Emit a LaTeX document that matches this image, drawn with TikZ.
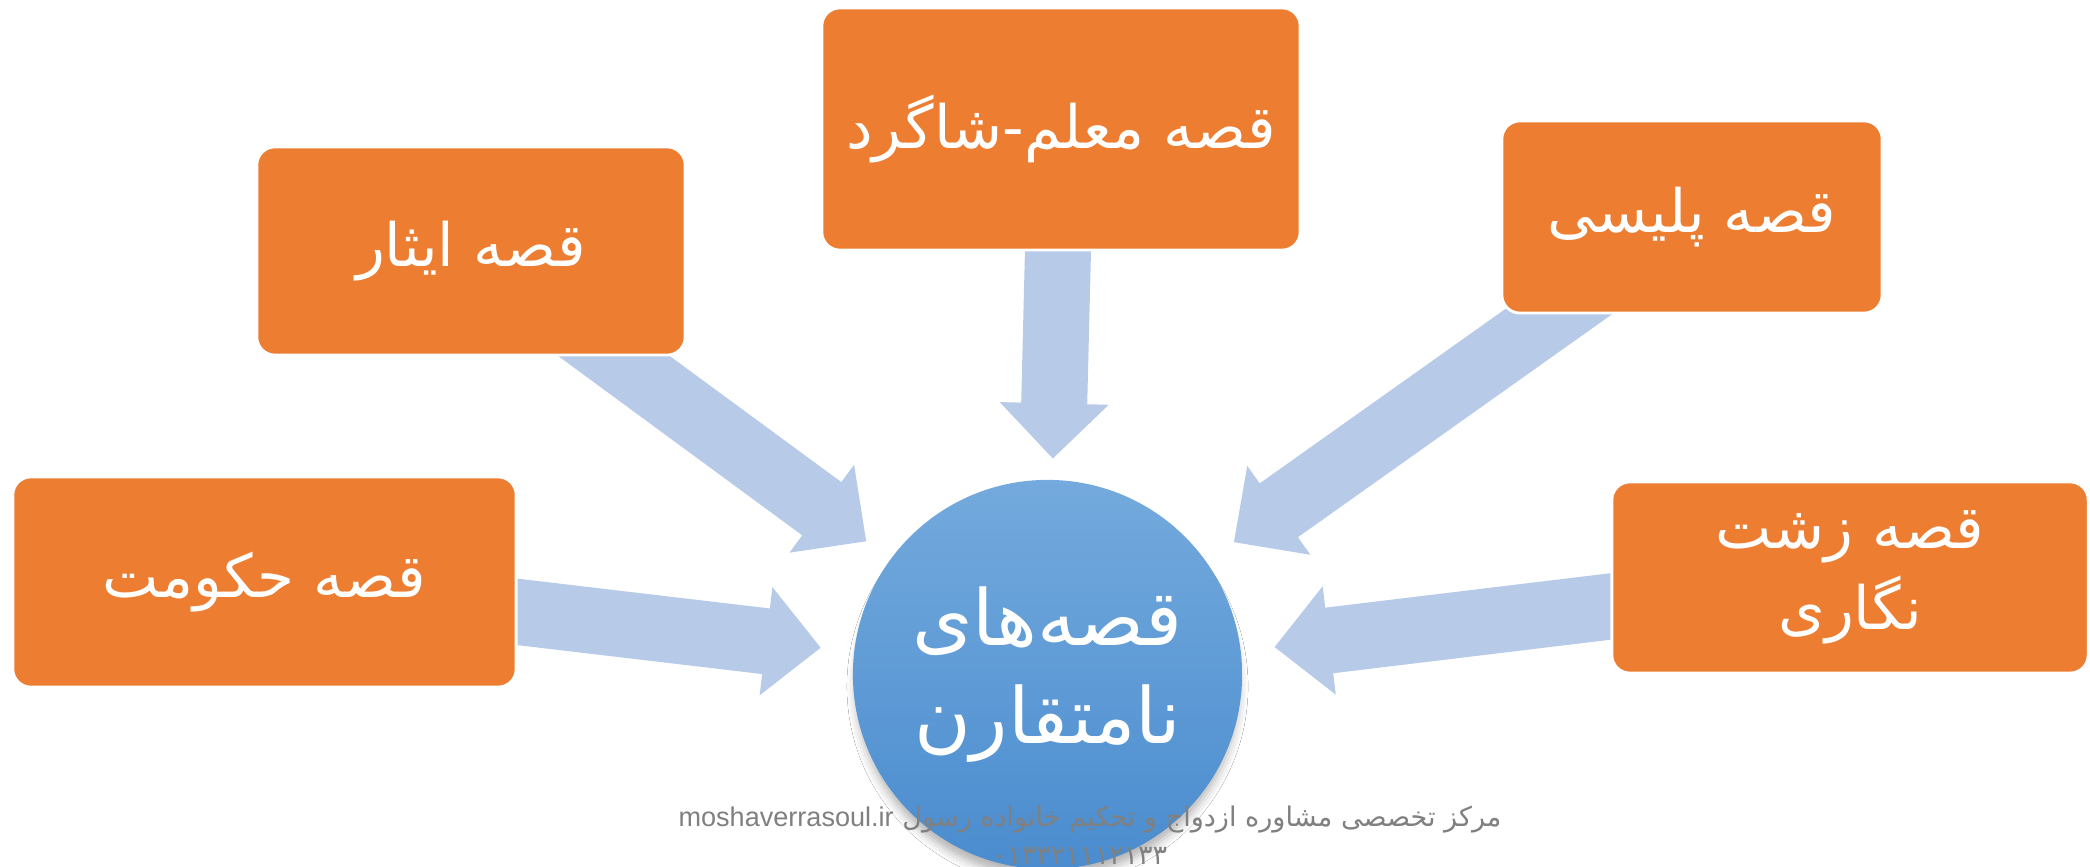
\documentclass[tikz,border=0pt]{standalone}
\usepackage{fontspec}
\newfontfamily\arabicfont[Script=Arabic]{DejaVu Sans}
\newfontfamily\latinsans{Liberation Sans}
\TeXXeTstate=1
\usetikzlibrary{calc,backgrounds,shadows.blur}
\definecolor{boxorange}{HTML}{ED7D31}
\definecolor{arrowblue}{HTML}{B7CBE8}
\definecolor{hubtop}{HTML}{74AADD}
\definecolor{hubbot}{HTML}{4A8CCF}
\definecolor{notegray}{HTML}{808080}
\newcommand\boxfont{\arabicfont\fontsize{17pt}{23pt}\selectfont}
\newcommand\hubfont{\arabicfont\fontsize{22pt}{28pt}\selectfont}
\newcommand\notefont{\arabicfont\fontsize{7.7pt}{10pt}\selectfont}
% #1 source node, #2 target node, #3 distance of the tip from the target centre
\newcommand\blockarrow[3]{%
  \begin{scope}
    \coordinate (T) at ($(#2.center)!#3!(#1.center)$);
    \coordinate (H) at ($(T)!5.5mm!(#1.center)$);
    \fill[arrowfill] ($(#1.center)!3.3mm!90:(T)$) -- ($(H)!3.3mm!90:(T)$)
      -- ($(H)!5.45mm!90:(T)$) -- (T) -- ($(H)!5.45mm!-90:(T)$)
      -- ($(H)!3.3mm!-90:(T)$) -- ($(#1.center)!3.3mm!-90:(T)$) -- cycle;
  \end{scope}}
\tikzset{
  box/.style={rectangle, rounded corners=1.8mm, fill=boxorange, draw=white,
    line width=0.8pt, text=white, align=center, inner sep=0pt, font=\boxfont},
  hub/.style={circle, inner sep=0pt, minimum size=3.89cm, top color=hubtop,
    bottom color=hubbot, draw=none, text=white, align=center, font=\hubfont,
    blur shadow={shadow xshift=0pt, shadow yshift=-1.2mm, shadow scale=0.985,
      shadow blur radius=0.9mm, shadow opacity=30}},
  arrowfill/.style={fill=arrowblue},
  note/.style={text=notegray, anchor=base, font=\notefont}
}
\begin{document}
\begin{tikzpicture}[x=0.01cm, y=-0.01cm]
\useasboundingbox (0,0) rectangle (2090,867);
% boxes
\node[box, minimum width=5.03cm, minimum height=2.10cm] (hokumat) at (264.5,582) {\beginR قصه حکومت\endR};
\node[box, minimum width=4.28cm, minimum height=2.08cm] (isar) at (471,251) {\beginR قصه ایثار\endR};
\node[box, minimum width=4.78cm, minimum height=2.42cm] (moallem) at (1061,129) {\beginR قصه معلم-شاگرد\endR};
\node[box, minimum width=3.80cm, minimum height=1.92cm] (police) at (1692,217) {\beginR قصه پلیسی\endR};
\node[box, minimum width=4.76cm, minimum height=1.91cm] (zesht) at (1850,577.5) {\beginR قصه زشت\endR\\\beginR نگاری\endR};
% hub
\node[hub] (hub) at (1047.5,674.5) {\beginR قصه‌های\endR\\\beginR نامتقارن\endR};
% watermark
\node[note] (wm1) at (1090,826) {\beginR مرکز تخصصی مشاوره ازدواج و تحکیم خانواده رسول \beginL{\latinsans moshaverrasoul.ir}\endL{}\endR};
\node[note] (wm2) at (1080,864) {۰۱۳۳۲۱۱۱۲۱۳۳};
% arrows
\begin{scope}[on background layer]
  \fill[white] (0,0) rectangle (2090,867);
  \blockarrow{hokumat}{hub}{2.283cm}
  \blockarrow{isar}{hub}{2.249cm}
  \blockarrow{moallem}{hub}{2.16cm}
  \blockarrow{police}{hub}{2.285cm}
  \blockarrow{zesht}{hub}{2.286cm}
\end{scope}
\end{tikzpicture}
\end{document}
